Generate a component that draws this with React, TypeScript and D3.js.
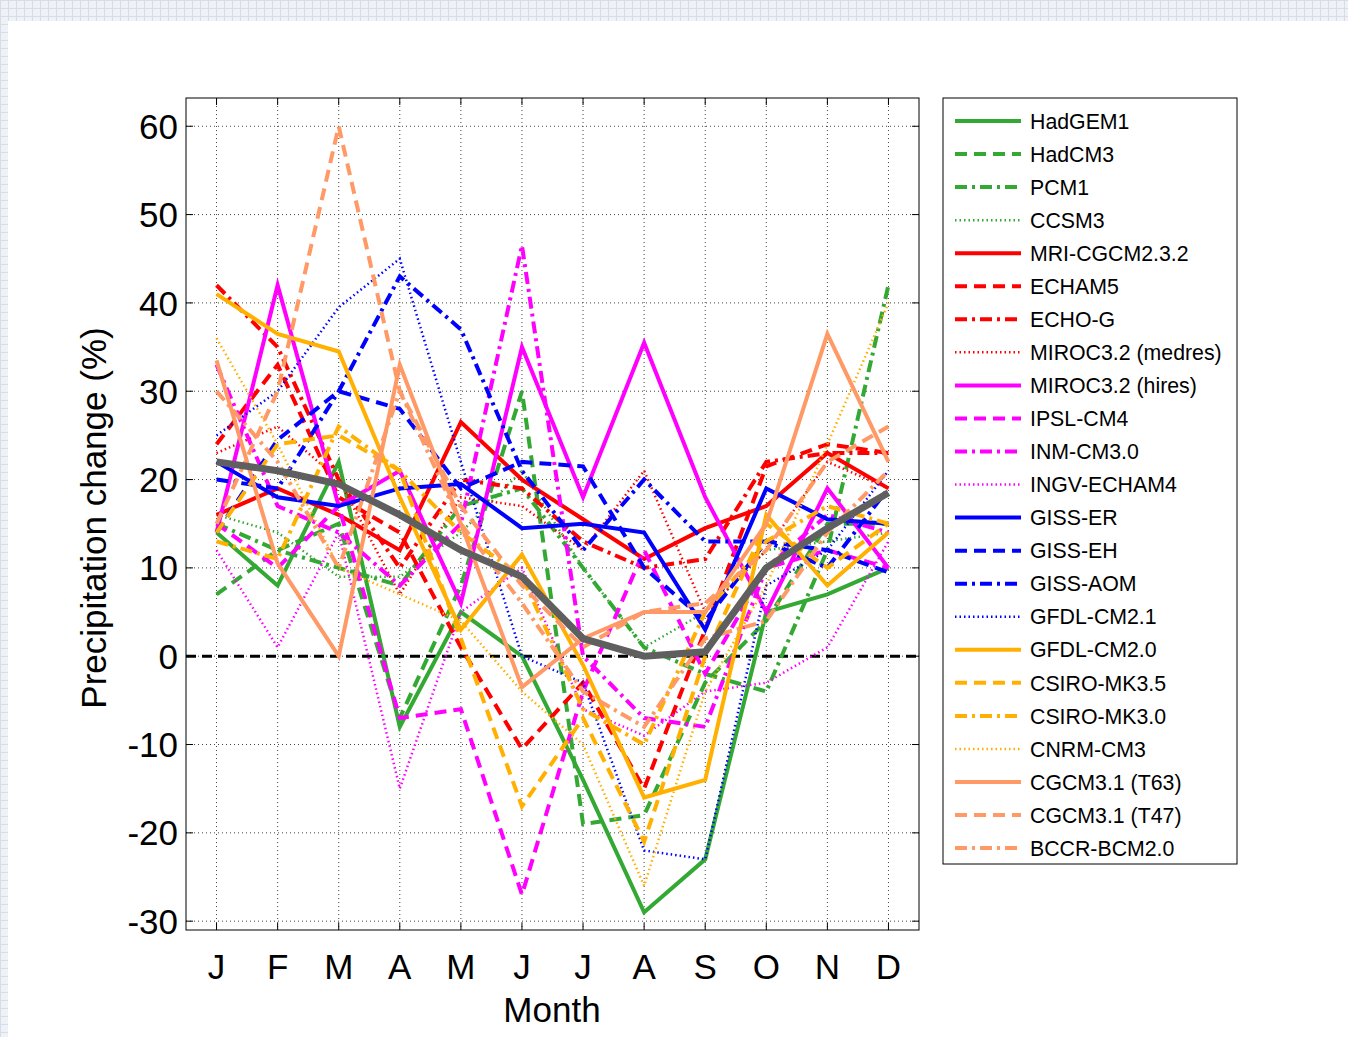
import React from 'react';
import * as d3 from 'd3';

const months = ['J', 'F', 'M', 'A', 'M', 'J', 'J', 'A', 'S', 'O', 'N', 'D'];
const yTicks = [-30, -20, -10, 0, 10, 20, 30, 40, 50, 60];

const hadgem1 = [14, 8, 22, -8, 5, 0, -14, -29, -23, 5, 7, 10];
const hadcm3 = [7, 12, 15, -7, 8, 30, -19, -18, -3, 4, 15, 15];
const pcm1 = [15, 12, 10, 8, 17, 19, 10, 1, -2, -4, 12, 42];
const ccsm3 = [16, 14, 9, 9, 14, 21, 10, 1, 5, 12, 13, 14];
const mri = [16, 19, 16, 12, 26.5, 20, 15.5, 11, 14.5, 17, 23, 19];
const echam5 = [24, 33, 18, 14, 1, -10.5, -3, -15, 3, 21.5, 24, 23];
const echog = [42, 35, 20, 10, 20, 19, 13, 10, 11, 22, 23, 23];
const mirocMed = [23, 26, 20, 7, 18, 17, 12, 21, 5, 12, 22, 19];
const mirocHi = [14, 42, 17, 21, 6, 35, 18, 35.5, 18, 5, 19, 10];
const ipsl = [15, 10, 17, -7, -6, -27, -4, 12, -2, 10, 12, 10];
const inm = [33, 17, 14, 8, 15, 46.5, 0, -7, -8, 10, 16, 14];
const ingv = [12, 1, 14, -15, 5, 10, -6, -9, -4, -3, 1, 13];
const gissEr = [22, 18, 17, 19, 19.5, 14.5, 15, 14, 3, 19, 15.5, 15];
const gissEh = [14, 24.5, 30, 28, 19, 22, 21.5, 10, 4, 13, 12, 9.5];
const gissAom = [20, 19, 30, 43, 37, 21, 12, 20, 13, 13, 10, 19];
const gfdl21 = [25, 30, 39.5, 45, 22, 0, -3, -22, -23, 8, 12, 21];
const gfdl20 = [41, 36.5, 34.5, 18, 3, 11.5, -1, -16, -14, 16, 8, 14];
const csiro35 = [14, 24, 25, 21, 2, -17, -7, -21, 0, 15, 10, 15];
const csiro30 = [13, 11, 26, 21, 14, 9, -6, -10, 5, 13, 17, 15];
const cnrm = [36, 24, 10, 7, 4, -4, -10, -26, -4, 8, 24, 40];
const cgcmT63 = [33.5, 10.5, 0, 33, 15, -3.5, 2, 5, 5, 15, 36.5, 22];
const cgcmT47 = [15, 30, 60, 30, 17, 8, 1, 5, 6, 12, 22, 26];
const bccr = [30, 22, 10, 30, 15, 6, -4, -8, 2, 4, 14, 21];
const ensembleMean = [22, 21, 19.5, 16, 12, 9, 2, 0, 0.5, 10, 14.5, 18.5];

const GREEN = '#33a833';
const RED = '#ff0000';
const MAG = '#ff00ff';
const BLUE = '#0000ff';
const ORANGE = '#ffb000';
const SALMON = '#ff9966';

type Style = 'solid' | 'dashed' | 'dashdot' | 'dotted';
const series: { name: string; color: string; style: Style; values: number[] }[] = [
  { name: 'HadGEM1', color: GREEN, style: 'solid', values: hadgem1 },
  { name: 'HadCM3', color: GREEN, style: 'dashed', values: hadcm3 },
  { name: 'PCM1', color: GREEN, style: 'dashdot', values: pcm1 },
  { name: 'CCSM3', color: GREEN, style: 'dotted', values: ccsm3 },
  { name: 'MRI-CGCM2.3.2', color: RED, style: 'solid', values: mri },
  { name: 'ECHAM5', color: RED, style: 'dashed', values: echam5 },
  { name: 'ECHO-G', color: RED, style: 'dashdot', values: echog },
  { name: 'MIROC3.2 (medres)', color: RED, style: 'dotted', values: mirocMed },
  { name: 'MIROC3.2 (hires)', color: MAG, style: 'solid', values: mirocHi },
  { name: 'IPSL-CM4', color: MAG, style: 'dashed', values: ipsl },
  { name: 'INM-CM3.0', color: MAG, style: 'dashdot', values: inm },
  { name: 'INGV-ECHAM4', color: MAG, style: 'dotted', values: ingv },
  { name: 'GISS-ER', color: BLUE, style: 'solid', values: gissEr },
  { name: 'GISS-EH', color: BLUE, style: 'dashed', values: gissEh },
  { name: 'GISS-AOM', color: BLUE, style: 'dashdot', values: gissAom },
  { name: 'GFDL-CM2.1', color: BLUE, style: 'dotted', values: gfdl21 },
  { name: 'GFDL-CM2.0', color: ORANGE, style: 'solid', values: gfdl20 },
  { name: 'CSIRO-MK3.5', color: ORANGE, style: 'dashed', values: csiro35 },
  { name: 'CSIRO-MK3.0', color: ORANGE, style: 'dashdot', values: csiro30 },
  { name: 'CNRM-CM3', color: ORANGE, style: 'dotted', values: cnrm },
  { name: 'CGCM3.1 (T63)', color: SALMON, style: 'solid', values: cgcmT63 },
  { name: 'CGCM3.1 (T47)', color: SALMON, style: 'dashed', values: cgcmT47 },
  { name: 'BCCR-BCM2.0', color: SALMON, style: 'dashdot', values: bccr },
];

const styleAttrs = (s: Style) => {
  switch (s) {
    case 'solid':
      return { strokeWidth: 4, strokeDasharray: undefined as string | undefined };
    case 'dashed':
      return { strokeWidth: 4, strokeDasharray: '12,7' };
    case 'dashdot':
      return { strokeWidth: 4, strokeDasharray: '12,5,3,5' };
    case 'dotted':
      return { strokeWidth: 2.5, strokeDasharray: '1.5,3' };
  }
};

const W = 1348;
const H = 1037;
const plot = { left: 186, top: 98, right: 919, bottom: 930 };
const FONT = '"Liberation Sans", Arial, Helvetica, sans-serif';

export default function App() {
  const x = d3.scaleLinear().domain([0.5, 12.5]).range([plot.left, plot.right]);
  const y = d3.scaleLinear().domain([-31, 63.2]).range([plot.bottom, plot.top]);
  const line = d3
    .line<number>()
    .x((_, i) => x(i + 1))
    .y((d) => y(d));

  const legend = { left: 943, top: 98, right: 1237, bottom: 864, first: 121, step: 33.05 };

  return (
    <svg
      width={W}
      height={H}
      style={{ position: 'absolute', left: 0, top: 0, display: 'block' }}
      fontFamily={FONT}
    >
      <defs>
        <pattern id="bgpat" width="8" height="8" patternUnits="userSpaceOnUse">
          <rect width="8" height="8" fill="#eef2f7" />
          <path d="M0,0.5H8M0.5,0V8" stroke="#d6dde8" strokeWidth="1" />
        </pattern>
        <clipPath id="plotclip">
          <rect x={plot.left} y={plot.top} width={plot.right - plot.left} height={plot.bottom - plot.top} />
        </clipPath>
      </defs>
      <rect x={0} y={0} width={W} height={H} fill="url(#bgpat)" />
      <rect x={8} y={21} width={W - 8} height={H - 21} fill="#ffffff" />

      {/* grid */}
      <g stroke="#444" strokeWidth={1} strokeDasharray="1,3">
        {months.map((_, i) => (
          <line key={'gx' + i} x1={x(i + 1)} x2={x(i + 1)} y1={plot.top} y2={plot.bottom} />
        ))}
        {yTicks.map((t) => (
          <line key={'gy' + t} x1={plot.left} x2={plot.right} y1={y(t)} y2={y(t)} />
        ))}
      </g>

      {/* zero line */}
      <line
        x1={plot.left}
        x2={plot.right}
        y1={y(0)}
        y2={y(0)}
        stroke="#000"
        strokeWidth={3}
        strokeDasharray="10,6"
      />

      <g clipPath="url(#plotclip)" fill="none" strokeLinejoin="miter">
        {series.map((s) => {
          const st = styleAttrs(s.style);
          return (
            <path
              key={s.name}
              d={line(s.values) || ''}
              stroke={s.color}
              strokeWidth={st.strokeWidth}
              strokeDasharray={st.strokeDasharray}
            />
          );
        })}
        <path d={line(ensembleMean) || ''} stroke="#5f5f5f" strokeWidth={7} />
      </g>

      {/* axes box and ticks */}
      <rect
        x={plot.left}
        y={plot.top}
        width={plot.right - plot.left}
        height={plot.bottom - plot.top}
        fill="none"
        stroke="#000"
        strokeWidth={1}
      />
      <g stroke="#000" strokeWidth={1}>
        {months.map((_, i) => (
          <g key={'tx' + i}>
            <line x1={x(i + 1)} x2={x(i + 1)} y1={plot.bottom} y2={plot.bottom - 7} />
            <line x1={x(i + 1)} x2={x(i + 1)} y1={plot.top} y2={plot.top + 7} />
          </g>
        ))}
        {yTicks.map((t) => (
          <g key={'ty' + t}>
            <line x1={plot.left} x2={plot.left + 7} y1={y(t)} y2={y(t)} />
            <line x1={plot.right} x2={plot.right - 7} y1={y(t)} y2={y(t)} />
          </g>
        ))}
      </g>

      {/* tick labels */}
      <g fontSize={35} fill="#000">
        {yTicks.map((t) => (
          <text key={'yl' + t} x={plot.left - 8} y={y(t)} dy="0.36em" textAnchor="end">
            {t}
          </text>
        ))}
        {months.map((m, i) => (
          <text key={'xl' + i} x={x(i + 1)} y={979} textAnchor="middle">
            {m}
          </text>
        ))}
      </g>
      <text x={552} y={1022} fontSize={35} textAnchor="middle" fill="#000">
        Month
      </text>
      <text
        transform={`translate(106,518) rotate(-90)`}
        fontSize={35}
        textAnchor="middle"
        fill="#000"
      >
        Precipitation change (%)
      </text>

      {/* legend */}
      <rect
        x={legend.left}
        y={legend.top}
        width={legend.right - legend.left}
        height={legend.bottom - legend.top}
        fill="#fff"
        stroke="#000"
        strokeWidth={1}
      />
      {series.map((s, i) => {
        const st = styleAttrs(s.style);
        const yy = legend.first + i * legend.step;
        return (
          <g key={'lg' + s.name}>
            <line
              x1={955}
              x2={1021}
              y1={yy}
              y2={yy}
              stroke={s.color}
              strokeWidth={st.strokeWidth}
              strokeDasharray={st.strokeDasharray}
            />
            <text x={1030} y={yy} dy="0.36em" fontSize={21.3} fill="#000">
              {s.name}
            </text>
          </g>
        );
      })}
    </svg>
  );
}
